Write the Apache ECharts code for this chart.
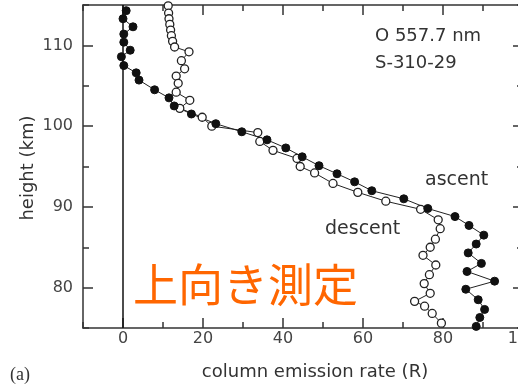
<!DOCTYPE html>
<html>
<head>
<meta charset="utf-8">
<script src="https://cdn.jsdelivr.net/npm/echarts@6/dist/echarts.min.js"></script>
<style>
  html, body { margin: 0; padding: 0; background: #fff; }
  #chart { width: 518px; height: 391px; }
</style>
</head>
<body>
<div id="chart"></div>
<script>
// ascent profile (filled dots): column emission rate (R) vs height (km)
const ascentRate = [0.8, 0, 2.5, 0.2, 0.2, 1.8, -0.4, 0.2, 3.3, 4, 7.9, 11.5, 12.8, 17.1, 23.2,
  29.7, 36, 40.7, 44.8, 49, 53.5, 57.9, 62.2, 70.2, 76.2, 83, 86.5, 90.2, 88.3, 86.3, 89.6,
  86, 92.9, 85.7, 88.8, 90.4, 89.2, 88.3];
const ascentHeight = [114.3, 113.3, 112.3, 111.4, 110.4, 109.4, 108.6, 107.5, 106.6, 105.7, 104.5,
  103.5, 102.5, 101.5, 100.3, 99.3, 98.3, 97.3, 96.2, 95.1, 94.1, 93.1, 92, 91, 89.8, 88.8,
  87.7, 86.5, 85.4, 84.3, 83, 82, 80.8, 79.8, 78.5, 77.3, 76.3, 75.2];

// descent profile (open dots)
const descentRate = [11.3, 11.4, 11.5, 11.7, 11.9, 12.1, 12.4, 12.9, 16.5, 14.6, 15.4, 13.3, 13.8,
  13.3, 16.7, 14.2, 19.8, 22.2, 33.7, 34.2, 37.5, 43.5, 44.3, 47.9, 52.5, 58.7, 65.7, 74.4,
  78.8, 79.3, 78.1, 76.8, 75, 78.2, 76.6, 75.3, 76.8, 72.9, 75.4, 77.3, 79.6];
const descentHeight = [114.9, 114, 113.3, 112.6, 111.9, 111.2, 110.5, 109.8, 109.2, 108.1, 107.1,
  106.2, 105.3, 104.2, 103.2, 102.2, 101.1, 100, 99.2, 98.1, 97, 96, 95, 94.2, 92.9, 91.8,
  90.7, 89.7, 88.4, 87.3, 86, 85, 84, 82.8, 81.6, 80.5, 79.3, 78.3, 77.7, 76.8, 75.6];

// axis ranges: x runs past the canvas edge (100 sits just off-screen at the frame)
const xRange = [-10, 110];
const yRange = [75, 115];
const xLabelStep = 20;
const yLabelStep = 10;

const FONT = 'DejaVu Sans';
const AXIS_COLOR = '#333';

function pairs(xs, ys) {
  return xs.map((x, i) => [x, ys[i]]);
}

// frame axis: short ticks from min every `step`, long minor ticks halfway between
function frameAxis(range, step, position, offset) {
  return {
    type: 'value',
    position: position,
    offset: offset || 0,
    min: range[0],
    max: range[1],
    interval: step,
    axisLine: { show: true, onZero: false, lineStyle: { color: AXIS_COLOR, width: 1.5 } },
    axisTick: { show: true, inside: true, length: 6, lineStyle: { color: AXIS_COLOR, width: 1.5 } },
    minorTick: { show: true, splitNumber: 2, length: 10, lineStyle: { color: AXIS_COLOR, width: 1.5 } },
    axisLabel: { show: false },
    splitLine: { show: false },
    minorSplitLine: { show: false }
  };
}

// label-only axis
function labelAxis(range, step, position, margin) {
  return {
    type: 'value',
    position: position,
    min: range[0],
    max: range[1],
    interval: step / 2,
    axisLine: { show: false, onZero: false },
    axisTick: { show: false },
    axisLabel: {
      show: true,
      margin: margin,
      color: '#444',
      fontFamily: FONT,
      fontSize: 16,
      formatter: v => (v % step === 0 ? String(v) : '')
    },
    splitLine: { show: false }
  };
}

const myChart = echarts.init(document.getElementById('chart'));

const option = {
  animation: false,
  backgroundColor: '#fff',
  grid: { left: 83, top: 5, width: 480, height: 323, containLabel: false, outerBoundsMode: 'none' },
  xAxis: [
    frameAxis(xRange, 20, 'bottom'),
    labelAxis(xRange, xLabelStep, 'bottom', 3),
    frameAxis(xRange, 20, 'top')
  ],
  yAxis: [
    frameAxis(yRange, 10, 'left'),
    labelAxis(yRange, yLabelStep, 'left', 10),
    frameAxis(yRange, 10, 'right', -40)
  ],
  graphic: [
    { type: 'text', x: 375, y: 36, style: { text: 'O 557.7 nm', fontFamily: FONT, fontSize: 18,
      fill: '#333', verticalAlign: 'middle' } },
    { type: 'text', x: 375, y: 63, style: { text: 'S-310-29', fontFamily: FONT, fontSize: 18,
      fill: '#333', verticalAlign: 'middle' } },
    { type: 'text', x: 425, y: 180, style: { text: 'ascent', fontFamily: FONT, fontSize: 19,
      fill: '#333', verticalAlign: 'middle' } },
    { type: 'text', x: 325, y: 229, style: { text: 'descent', fontFamily: FONT, fontSize: 19,
      fill: '#333', verticalAlign: 'middle' } },
    { type: 'text', x: 133, y: 285, style: { text: '上向き測定', fontFamily: 'Noto Sans CJK JP',
      fontSize: 45, fill: '#FF6600', verticalAlign: 'middle' } },
    { type: 'text', x: 315, y: 372, style: { text: 'column emission rate (R)', fontFamily: FONT,
      fontSize: 18, fill: '#333', align: 'center', verticalAlign: 'middle' } },
    { type: 'text', x: 10, y: 375, style: { text: '(a)', fontFamily: 'Liberation Serif',
      fontSize: 18, fill: '#333', verticalAlign: 'middle' } },
    { type: 'text', x: 28, y: 168, rotation: Math.PI / 2, style: { text: 'height (km)',
      fontFamily: FONT, fontSize: 18, fill: '#333', align: 'center', verticalAlign: 'middle' } }
  ],
  series: [
    {
      name: 'descent',
      type: 'line',
      data: pairs(descentRate, descentHeight),
      symbol: 'circle',
      symbolSize: 8,
      lineStyle: { color: '#222', width: 1 },
      itemStyle: { color: '#fff', borderColor: '#222', borderWidth: 1.3 },
      markLine: {
        silent: true,
        symbol: 'none',
        label: { show: false },
        lineStyle: { color: '#111', width: 1.5, type: 'solid' },
        data: [{ xAxis: 0 }]
      }
    },
    {
      name: 'ascent',
      type: 'line',
      data: pairs(ascentRate, ascentHeight),
      symbol: 'circle',
      symbolSize: 8,
      lineStyle: { color: '#222', width: 1 },
      itemStyle: { color: '#111', borderColor: '#111', borderWidth: 1 }
    }
  ]
};

myChart.setOption(option);
</script>
</body>
</html>
